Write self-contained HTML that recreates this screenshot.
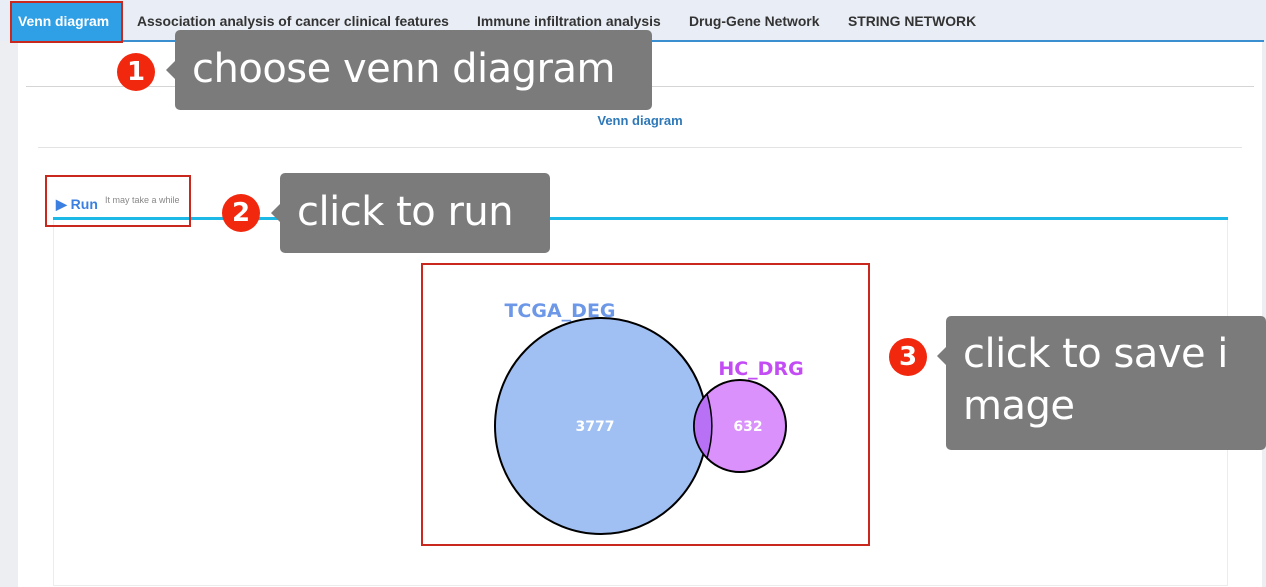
<!DOCTYPE html>
<html><head><style>
body{margin:0;width:1266px;height:587px;position:relative;overflow:hidden;background:#fff;font-family:"Liberation Sans",sans-serif}
.a{position:absolute}
.tab{position:absolute;top:13px;font-size:13.9px;font-weight:bold;color:#333}
.call{position:absolute;background:#7b7b7b;color:#fff;border-radius:5px;font-family:"DejaVu Sans",sans-serif;font-size:40px;line-height:52px;padding-left:17px;box-sizing:border-box;letter-spacing:-0.5px}
.call:before{content:"";position:absolute;left:-9px;top:30px;border-right:10px solid #7b7b7b;border-top:10px solid transparent;border-bottom:10px solid transparent}
.b{position:absolute;width:38px;height:38px;border-radius:50%;background:#f2280e;color:#fff;font-size:26px;font-weight:bold;text-align:center;line-height:38px;font-family:"DejaVu Sans",sans-serif}
.rb{position:absolute;border:2px solid #c8281e;box-sizing:border-box}
</style></head><body>
<div class="a" style="left:0;top:0;width:1266px;height:41px;background:#e9eef6"></div>
<div class="a" style="left:0;top:41px;width:18px;height:546px;background:#eceef2"></div>
<div class="a" style="left:1262px;top:41px;width:4px;height:546px;background:#eceef2"></div>
<div class="a" style="left:10px;top:40px;width:1254px;height:2px;background:#3a8fd0"></div>
<div class="a" style="left:12px;top:2px;width:109px;height:39px;background:#2fa0e6"></div>
<div class="tab" style="left:18px;color:#fff">Venn diagram</div>
<div class="tab" style="left:137px">Association analysis of cancer clinical features</div>
<div class="tab" style="left:477px">Immune infiltration analysis</div>
<div class="tab" style="left:689px">Drug-Gene Network</div>
<div class="tab" style="left:848px">STRING NETWORK</div>
<div class="rb" style="left:10px;top:1px;width:113px;height:42px"></div>
<div class="a" style="left:26px;top:86px;width:1228px;height:1px;background:#d5d5d5"></div>
<div class="a" style="left:0;width:1280px;top:113px;text-align:center;font-size:13px;font-weight:bold;color:#2e78b8">Venn diagram</div>
<div class="a" style="left:38px;top:147px;width:1204px;height:1px;background:#e3e3e3"></div>
<div class="a" style="left:53px;top:218px;width:1175px;height:368px;border:1px solid #ececec;border-top:none;box-sizing:border-box"></div>
<div class="a" style="left:53px;top:217px;width:1175px;height:3px;background:#1cb8e6"></div>
<div class="a" style="left:56px;top:196px;color:#3b7fe0;font-weight:bold;font-size:14px">&#9654; Run</div>
<div class="a" style="left:105px;top:195px;color:#888;font-size:9px">It may take a while</div>
<div class="rb" style="left:45px;top:175px;width:146px;height:52px"></div>
<svg class="a" style="left:0;top:0" width="1266" height="587">
<ellipse cx="601" cy="426" rx="106" ry="108" fill="#a0bff2" stroke="#000" stroke-width="2"/>
<circle cx="740" cy="426" r="46" fill="#d88bfb" fill-opacity="0.95" stroke="#000" stroke-width="2"/>
<path d="M707,394 A106,108 0 0 1 707,458 A46,46 0 0 1 707,394Z" fill="#b870f5" stroke="#000" stroke-width="1.5"/>
<text x="595" y="431" fill="#fff" font-size="14" font-weight="bold" text-anchor="middle" font-family="DejaVu Sans">3777</text>
<text x="748" y="431" fill="#fff" font-size="14" font-weight="bold" text-anchor="middle" font-family="DejaVu Sans">632</text>
<text x="560" y="317" fill="#6d98e8" font-size="19" font-weight="bold" text-anchor="middle" font-family="DejaVu Sans">TCGA_DEG</text>
<text x="761" y="375" fill="#c34cf5" font-size="19" font-weight="bold" text-anchor="middle" font-family="DejaVu Sans">HC_DRG</text>
</svg>
<div class="rb" style="left:421px;top:263px;width:449px;height:283px"></div>
<div class="call" style="left:175px;top:30px;width:477px;height:80px;padding-top:13px">choose venn diagram</div>
<div class="b" style="left:117px;top:53px">1</div>
<div class="call" style="left:280px;top:173px;width:270px;height:80px;padding-top:13px">click to run</div>
<div class="b" style="left:222px;top:194px">2</div>
<div class="call" style="left:946px;top:316px;width:320px;height:134px;padding-top:12px">click to save i<br>mage</div>
<div class="b" style="left:889px;top:338px">3</div>
</body></html>
